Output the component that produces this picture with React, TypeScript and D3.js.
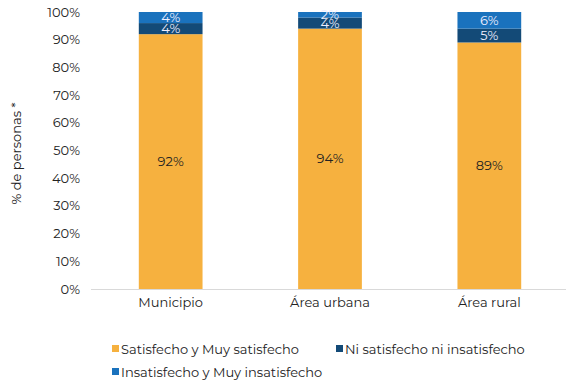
import React from "react";
import * as d3 from "d3";

const categories = ["Municipio", "Área urbana", "Área rural"];
const seriesNames = ["Satisfecho y Muy satisfecho", "Ni satisfecho ni insatisfecho", "Insatisfecho y Muy insatisfecho"];
const satisfecho = [92, 94, 89];
const ni = [4, 4, 5];
const insatisfecho = [4, 2, 6];
const colors = ["#F6B13F", "#134A77", "#1A72BD"];
const yTicks = [0, 10, 20, 30, 40, 50, 60, 70, 80, 90, 100];

const W = 566, H = 380;
const M = { left: 91, right: 566, top: 12, bottom: 289 };
const FONT = "Montserrat, 'Open Sans', sans-serif";
const FS = 13;

export default function App() {
  const x = d3.scaleBand().domain(categories).range([M.left, M.right + 3]).paddingInner(0.6).paddingOuter(0.3);
  const y = d3.scaleLinear().domain([0, 100]).range([M.bottom, M.top]);
  const rows = categories.map((c, i) => ({ cat: c, s0: satisfecho[i], s1: ni[i], s2: insatisfecho[i] }));
  const stack = d3.stack<any>().keys(["s0", "s1", "s2"])(rows);

  return (
    <svg width={W} height={H} style={{ position: "absolute", left: 0, top: 0 }} fontFamily={FONT}>
      {yTicks.map((t) => (
        <text key={t} x={80} y={y(t)} dy="0.35em" textAnchor="end" fontSize={FS} fill="#222">{t}%</text>
      ))}
      <text transform={`translate(21,${(M.top + M.bottom) / 2 + 3}) rotate(-90)`} textAnchor="middle" fontSize={FS} fill="#222">% de personas *</text>
      {stack.map((layer, li) => (
        <g key={li}>
          {layer.map((d, i) => {
            const bx = x(categories[i])!;
            const bw = x.bandwidth();
            const y0 = y(d[0]), y1 = y(d[1]);
            const v = d[1] - d[0];
            return (
              <g key={i}>
                <rect x={bx} y={y1} width={bw} height={y0 - y1} fill={colors[li]} />
                <text x={bx + bw / 2} y={(y0 + y1) / 2} dy="0.35em" textAnchor="middle" fontSize={FS}
                  fill={li === 0 ? "#222" : "#eef"}>{v}%</text>
              </g>
            );
          })}
        </g>
      ))}
      <line x1={M.left} x2={M.right} y1={M.bottom + 0.5} y2={M.bottom + 0.5} stroke="#d9d9d9" strokeWidth={1} />
      {categories.map((c) => (
        <text key={c} x={x(c)! + x.bandwidth() / 2} y={307} textAnchor="middle" fontSize={FS} fill="#222">{c}</text>
      ))}
      {[
        { i: 0, lx: 112, ly: 349 },
        { i: 1, lx: 336, ly: 349 },
        { i: 2, lx: 112, ly: 372 },
      ].map(({ i, lx, ly }) => (
        <g key={i}>
          <rect x={lx} y={ly - 4} width={7} height={7} fill={colors[i]} />
          <text x={lx + 9} y={ly} dy="0.35em" fontSize={FS} fill="#222">{seriesNames[i]}</text>
        </g>
      ))}
    </svg>
  );
}
